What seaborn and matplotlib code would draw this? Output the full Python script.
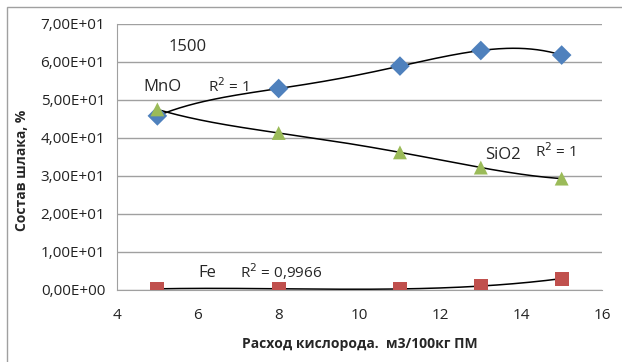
import numpy as np
import pandas as pd
import matplotlib
matplotlib.use("Agg")
import matplotlib.pyplot as plt
import seaborn as sns
from matplotlib.patches import Rectangle
from matplotlib.ticker import FuncFormatter

# data
oxygen = [5, 8, 11, 13, 15]
mno = [45.8, 53.0, 58.9, 63.0, 61.8]
sio2 = [47.5, 41.3, 36.2, 32.2, 29.3]
fe = [0.3, 0.3, 0.3, 1.0, 3.0]

df = pd.DataFrame({"x": oxygen * 3,
                   "y": mno + sio2 + fe,
                   "comp": ["MnO"] * 5 + ["SiO2"] * 5 + ["Fe"] * 5})

sns.set_style("white")
plt.rcParams["font.family"] = ["Open Sans", "DejaVu Sans"]

fig = plt.figure(figsize=(6.22, 3.62), dpi=100)
ax = fig.add_axes([0.188, 0.199, 0.780, 0.735])

# trendlines (polynomial, as in Excel)
xs = np.linspace(5, 15, 200)
for vals, deg in [(mno, 4), (sio2, 4), (fe, 3)]:
    p = np.polyfit(oxygen, vals, deg)
    ax.plot(xs, np.polyval(p, xs), color="black", lw=1.1, zorder=2)

colors = {"MnO": "#4F81BD", "SiO2": "#9BBB59", "Fe": "#C0504D"}
markers = {"MnO": "D", "SiO2": "^", "Fe": "s"}
sns.scatterplot(data=df, x="x", y="y", hue="comp", style="comp",
                palette=colors, markers=markers, s=100, edgecolor="none",
                legend=False, ax=ax, zorder=3)

ax.set_xlim(4, 16)
ax.set_ylim(0, 70)
ax.set_xticks(range(4, 17, 2))
ax.set_yticks(range(0, 71, 10))
ax.yaxis.set_major_formatter(FuncFormatter(lambda v, pos: f"{v:.2E}".replace(".", ",")))
ax.yaxis.grid(True, color="#A0A0A0", lw=1)
ax.xaxis.grid(False)
for s in ["top", "right"]:
    ax.spines[s].set_visible(False)
for s in ["left", "bottom"]:
    ax.spines[s].set_color("#A0A0A0")
ax.tick_params(axis="both", length=5, color="#A0A0A0", labelsize=11, labelcolor="#222222")
ax.tick_params(axis="x", pad=8)

ax.set_ylabel("")
ax.set_xlabel("Расход кислорода.  м3/100кг ПМ", fontsize=10, fontweight="bold", labelpad=10)
fig.text(0.035, 0.53, "Состав шлака, %", rotation=90, fontsize=10, fontweight="bold",
         ha="center", va="center")

ax.text(5.75, 63.8, "1500", fontsize=12, ha="center", va="center")
ax.text(5.12, 53.4, "MnO", fontsize=12, ha="center", va="center")
ax.text(6.75, 53.6, "R$^2$ = 1", fontsize=11, ha="center", va="center")
ax.text(13.55, 35.4, "SiO2", fontsize=12, ha="center", va="center")
ax.text(14.85, 36.4, "R$^2$ = 1", fontsize=11, ha="center", va="center")
ax.text(6.23, 4.5, "Fe", fontsize=12, ha="center", va="center")
ax.text(8.05, 4.7, "R$^2$ = 0,9966", fontsize=11, ha="center", va="center")

fig.patches.append(Rectangle((7 / 622, -0.05), 1.0, 1 - 7 / 362 + 0.05,
                             transform=fig.transFigure, fill=False,
                             edgecolor="#A0A0A0", lw=1))

fig.savefig("out.png", dpi=100)
